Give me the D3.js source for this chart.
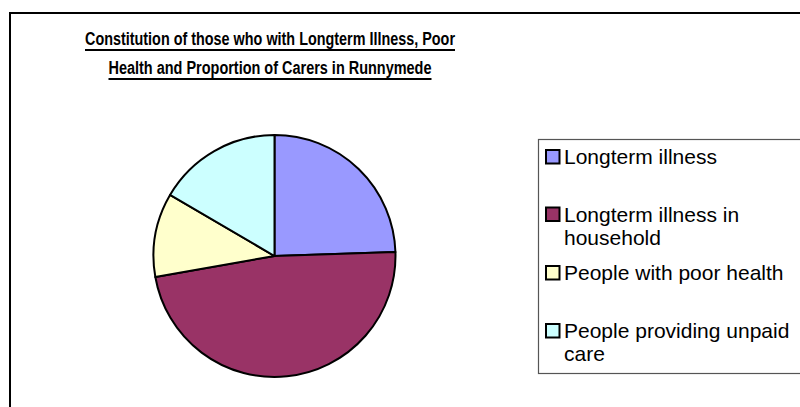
<!DOCTYPE html>
<html>
<head>
<meta charset="utf-8">
<script src="https://cdn.jsdelivr.net/npm/d3@7"></script>
<style>
  body { margin: 0; background: #fff; }
  svg { display: block; }
</style>
</head>
<body>
<div class="chart"></div>
<script>
// data (share of the pie, %)
const categories = [
  "Longterm illness",
  "Longterm illness in household",
  "People with poor health",
  "People providing unpaid care"
];
const values = [24.5, 47.8, 11.2, 16.6];
const legendLines = [
  ["Longterm illness"],
  ["Longterm illness in", "household"],
  ["People with poor health"],
  ["People providing unpaid", "care"]
];
const titleLines = [
  "Constitution of those who with Longterm Illness, Poor",
  "Health and Proportion of Carers in Runnymede"
];

const width = 800;
const height = 407;
const colors = ["#9999ff", "#993366", "#ffffcc", "#ccffff"];

const svg = d3.select(".chart")
  .append("svg")
  .attr("width", width)
  .attr("height", height);

// outer chart frame (runs off the page on right and bottom)
svg.append("rect")
  .attr("x", 10)
  .attr("y", 13)
  .attr("width", 820)
  .attr("height", 420)
  .attr("fill", "#fff")
  .attr("stroke", "#000")
  .attr("stroke-width", 2);

// title
const titleWidths = [370, 323];
const title = svg.append("g").attr("class", "title");
titleLines.forEach((t, i) => {
  const y = 45 + i * 29;
  title.append("text")
    .attr("x", 270)
    .attr("y", y)
    .attr("text-anchor", "middle")
    .attr("font-family", "'Liberation Sans Narrow', 'Liberation Sans', Arial, sans-serif")
    .attr("font-weight", "bold")
    .attr("font-size", 18)
    .attr("textLength", titleWidths[i])
    .attr("lengthAdjust", "spacingAndGlyphs")
    .text(t);
  title.append("line")
    .attr("x1", 270 - titleWidths[i] / 2)
    .attr("x2", 270 + titleWidths[i] / 2)
    .attr("y1", y + 5)
    .attr("y2", y + 5)
    .attr("stroke", "#000")
    .attr("stroke-width", 2);
});

// pie
const pie = d3.pie().sort(null).value((d) => d);
const arc = d3.arc().innerRadius(0).outerRadius(121);

svg.append("g")
  .attr("transform", "translate(274.5, 256)")
  .selectAll("path")
  .data(pie(values))
  .enter()
  .append("path")
  .attr("d", arc)
  .attr("fill", (d, i) => colors[i])
  .attr("stroke", "#000")
  .attr("stroke-width", 2)
  .attr("stroke-linejoin", "round");

// legend
svg.append("rect")
  .attr("x", 538.5)
  .attr("y", 139.5)
  .attr("width", 300)
  .attr("height", 234)
  .attr("fill", "#fff")
  .attr("stroke", "#555")
  .attr("stroke-width", 1.2);

const legendY = d3.scalePoint()
  .domain(categories)
  .range([164, 338]);

const item = svg.append("g")
  .selectAll("g")
  .data(categories)
  .enter()
  .append("g")
  .attr("transform", (d, i) => `translate(0, ${legendY(d) + (i === 1 ? -0.5 : 0)})`);

item.append("rect")
  .attr("x", 546)
  .attr("y", -14)
  .attr("width", 13.5)
  .attr("height", 13.5)
  .attr("fill", (d, i) => colors[i])
  .attr("stroke", "#000")
  .attr("stroke-width", 2);

item.append("text")
  .attr("font-family", "'Liberation Sans', Arial, sans-serif")
  .attr("font-size", 21)
  .attr("fill", "#000")
  .selectAll("tspan")
  .data((d, i) => legendLines[i])
  .enter()
  .append("tspan")
  .attr("x", 564)
  .attr("y", (d, j) => j * 23)
  .text((d) => d);
</script>
</body>
</html>
